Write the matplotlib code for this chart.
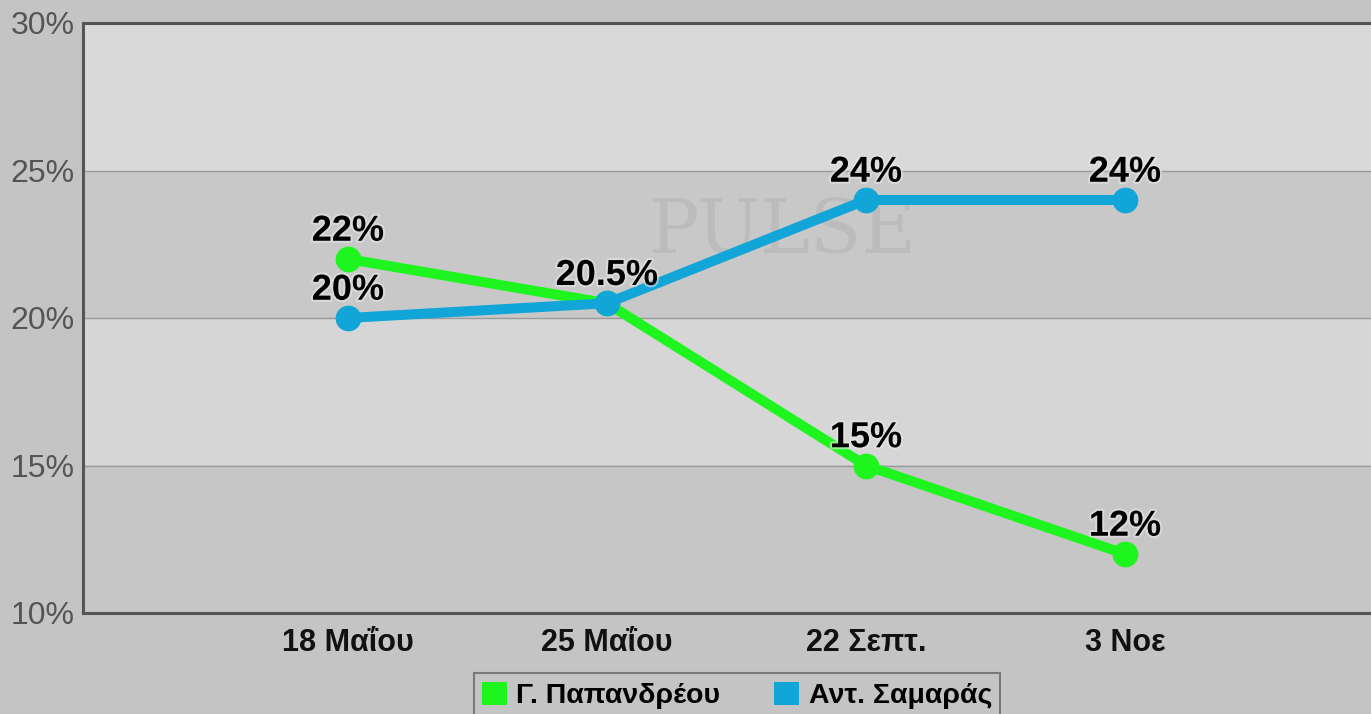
import matplotlib
matplotlib.use("Agg")
import matplotlib.pyplot as plt
from matplotlib.patches import Patch
import matplotlib.patheffects as pe

categories = ["18 Μαΐου", "25 Μαΐου", "22 Σεπτ.", "3 Νοε"]
papandreou = [22, 20.5, 15, 12]
samaras = [20, 20.5, 24, 24]
series_names = ["Γ. Παπανδρέου", "Αντ. Σαμαράς"]
labels_pap = ["22%", None, "15%", "12%"]
labels_sam = ["20%", "20.5%", "24%", "24%"]
yticks = [10, 15, 20, 25, 30]

plt.rcParams["font.family"] = ["Liberation Sans", "DejaVu Sans"]

W, H = 1371, 714
fig = plt.figure(figsize=(W / 100, H / 100), dpi=100)
fig.patch.set_facecolor("#c4c4c4")

left_px, top_px, bottom_px = 83, 23, 613
x0, x1 = -1.023, 4.0
px_per_unit = 259
width_px = (x1 - x0) * px_per_unit
ax = fig.add_axes([left_px / W, 1 - bottom_px / H, width_px / W, (bottom_px - top_px) / H])
ax.set_xlim(x0, x1)
ax.set_ylim(10, 30)
ax.set_facecolor("#c8c8c8")

# alternating bands
for lo, hi, c in [(10, 15, "#c6c6c6"), (15, 20, "#d6d6d6"), (20, 25, "#c8c8c8"), (25, 30, "#d9d9d9")]:
    ax.axhspan(lo, hi, color=c, zorder=0, lw=0)
for y in [15, 20, 25]:
    ax.axhline(y, color="#9a9a9a", lw=1, zorder=1)

# watermark
ax.text(1.68, 22.9, "PULSE", fontsize=54, family="DejaVu Serif", color="#b9b9b9",
        ha="center", va="center", zorder=1.5, alpha=0.8)

xs = list(range(len(categories)))
ax.plot(xs, papandreou, color="#1ef51e", lw=7.2, marker="o", markersize=17.5, zorder=3,
        solid_capstyle="round")
ax.plot(xs, samaras, color="#11a5d8", lw=7.2, marker="o", markersize=17.5, zorder=4,
        solid_capstyle="round")

eff = [pe.withStroke(linewidth=3, foreground="#e6e6e6", alpha=0.6)]
for vals, labs in [(papandreou, labels_pap), (samaras, labels_sam)]:
    for x, v, lab in zip(xs, vals, labs):
        if lab:
            ax.annotate(lab, (x, v), xytext=(0, 20), textcoords="offset points", ha="center",
                        va="center", fontsize=26, fontweight="bold", color="black", zorder=5,
                        path_effects=eff)

ax.set_xticks(xs)
ax.set_xticklabels(categories, fontsize=22, fontweight="bold", color="#111111")
ax.set_yticks(yticks)
ax.set_yticklabels([f"{v}%" for v in yticks], fontsize=23, color="#555555")
ax.tick_params(axis="both", length=0)
ax.tick_params(axis="x", pad=11)
ax.tick_params(axis="y", pad=6)

for s in ["left", "top", "bottom", "right"]:
    ax.spines[s].set_color("#555555")
    ax.spines[s].set_linewidth(2.2)

handles = [Patch(facecolor="#1ef51e", edgecolor="none"), Patch(facecolor="#11a5d8", edgecolor="none")]
leg = fig.legend(handles, series_names, loc="upper center", bbox_to_anchor=(737 / W, 1 - 673 / H),
                 ncol=2, frameon=True, fancybox=False, prop={"size": 20.5, "weight": "bold"},
                 handlelength=0.88, handleheight=0.88, handletextpad=0.32, columnspacing=1.9,
                 borderpad=0.3, borderaxespad=0)
leg.get_frame().set_facecolor("#c4c4c4")
leg.get_frame().set_edgecolor("#666666")
leg.get_frame().set_linewidth(1.5)

fig.savefig("out.png", dpi=100, facecolor=fig.get_facecolor())
